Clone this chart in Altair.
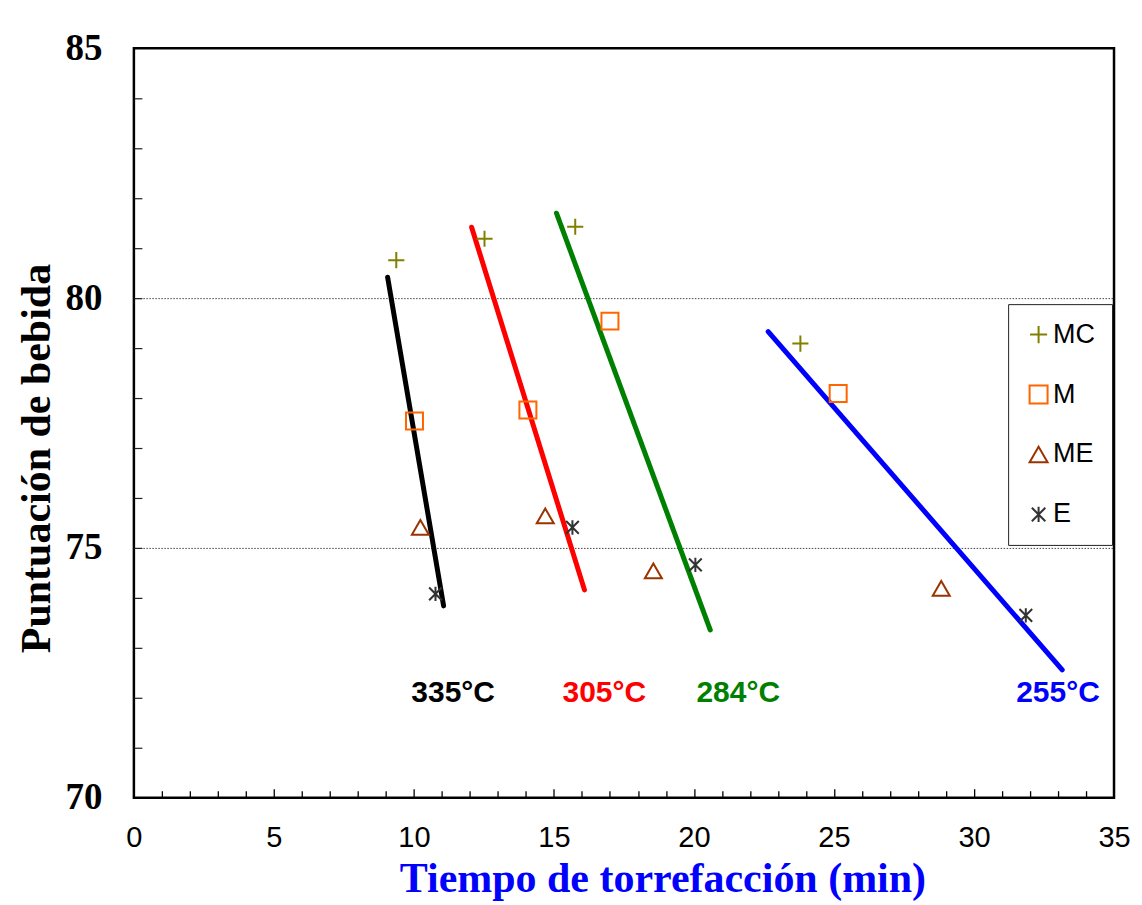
import altair as alt
import pandas as pd

# ---- data ----
series = ["MC", "M", "ME", "E"]
mc_x = [9.37, 12.52, 15.76, 23.8]
mc_y = [80.76, 81.19, 81.43, 79.09]
m_x = [10.02, 14.07, 17.0, 25.15]
m_y = [77.54, 77.76, 79.54, 78.09]
me_x = [10.23, 14.69, 18.55, 28.83]
me_y = [75.41, 75.64, 74.54, 74.19]
e_x = [10.77, 15.66, 20.05, 31.85]
e_y = [74.08, 75.41, 74.66, 73.65]
marker_colors = ["#808000", "#FF6600", "#993300", "#333333"]

temps = ["335°C", "305°C", "284°C", "255°C"]
fit_x0 = [9.06, 12.06, 15.09, 22.65]
fit_y0 = [80.42, 81.42, 81.7, 79.33]
fit_x1 = [11.06, 16.09, 20.58, 33.15]
fit_y1 = [73.84, 74.16, 73.36, 72.56]
temp_colors = ["#000000", "#FF0000", "#008000", "#0000FF"]
label_x = [11.4, 16.8, 21.58, 33.0]
label_y = [72.1, 72.1, 72.1, 72.1]

x_ticks_major = [0, 5, 10, 15, 20, 25, 30, 35]
x_ticks_minor = list(range(1, 35))
y_ticks_major = [70, 75, 80, 85]
y_ticks_minor = list(range(71, 85))

# ---- tables ----
pts = pd.DataFrame({
    "x": mc_x + m_x + me_x + e_x,
    "y": mc_y + m_y + me_y + e_y,
    "serie": ["MC"] * 4 + ["M"] * 4 + ["ME"] * 4 + ["E"] * 4,
})
lines = pd.DataFrame({
    "x": fit_x0 + fit_x1,
    "y": fit_y0 + fit_y1,
    "temp": temps + temps,
    "col": temp_colors + temp_colors,
})
labels = pd.DataFrame({"x": label_x, "y": label_y, "text": temps, "col": temp_colors})

plus_path = "M-0.95,0H0.95M0,-0.95V0.95"
star_path = "M-0.75,-0.75L0.75,0.75M-0.75,0.75L0.75,-0.75M0,-0.85V0.85"
shape_range = [plus_path, "square", "triangle-up", star_path]

W, H = 981, 750
xscale = alt.Scale(domain=[0, 35], nice=False, zero=False)
yscale = alt.Scale(domain=[70, 85], nice=False, zero=False)

x_main_axis = alt.Axis(
    values=x_ticks_major, ticks=False, tickSize=0, domain=False, grid=False,
    labelFont="Liberation Sans", labelFontSize=29, labelColor="black",
    labelPadding=26, labelFlush=False, labelOverlap=False, labelBaseline="top",
    title="Tiempo de torrefacción (min)", titleFont="Liberation Serif",
    titleFontWeight="bold", titleFontSize=42, titleColor="#0000FF",
    titleX=529, titleY=94, titleAlign="center", titleBaseline="alphabetic",
)
y_main_axis = alt.Axis(
    values=y_ticks_major, ticks=False, tickSize=0, domain=False,
    grid=True, gridColor="#444444", gridDash=[1.5, 1.5], gridWidth=1,
    gridOpacity={"condition": {"test": "datum.value === 75 || datum.value === 80", "value": 1}, "value": 0},
    labelFont="Liberation Serif", labelFontWeight="bold", labelFontSize=37,
    labelColor="black", labelPadding=32, labelFlush=False, labelOverlap=False,
    labelBaseline="middle",
    title="Puntuación de bebida", titleFont="Liberation Serif",
    titleFontWeight="bold", titleFontSize=42, titleColor="black",
    titleAngle=270, titleX=-84, titleY=410, titleAlign="center",
    titleBaseline="alphabetic",
)

line_layer = alt.Chart(lines).mark_line(strokeWidth=5, strokeCap="round").encode(
    x=alt.X("x:Q", scale=xscale, axis=x_main_axis),
    y=alt.Y("y:Q", scale=yscale, axis=y_main_axis),
    detail="temp:N",
    stroke=alt.Stroke("col:N", scale=None),
)

legend = alt.Legend(
    orient="none", legendX=875, legendY=256, title=None,
    strokeColor="#222222", fillColor="white", padding=17,
    labelFont="Liberation Sans", labelFontSize=27, labelColor="black",
    labelOffset=1, rowPadding=32, symbolSize=324, symbolStrokeWidth=2,
)

point_layer = alt.Chart(pts).mark_point(filled=False, size=289, strokeWidth=2, opacity=1).encode(
    x=alt.X("x:Q", scale=xscale, axis=None),
    y=alt.Y("y:Q", scale=yscale, axis=None),
    color=alt.Color("serie:N", scale=alt.Scale(domain=series, range=marker_colors), legend=legend),
    shape=alt.Shape("serie:N", scale=alt.Scale(domain=series, range=shape_range), legend=legend),
)

x_tick_axis = alt.Axis(
    orient="top", offset=-H, values=x_ticks_minor, labels=False, domain=False,
    grid=False, ticks=True, tickColor="black", tickWidth=1.3,
    tickSize={"condition": {"test": "datum.value % 5 === 0", "value": 9}, "value": 7},
    title=None,
)
y_tick_axis = alt.Axis(
    orient="right", offset=-W, values=y_ticks_minor, labels=False, domain=False,
    grid=False, ticks=True, tickColor="#222222", tickWidth=1.2, tickSize=8,
    title=None,
)

text_layer = alt.Chart(labels).mark_text(
    font="Liberation Sans", fontWeight="bold", fontSize=30,
    align="center", baseline="middle",
).encode(
    x=alt.X("x:Q", scale=xscale, axis=x_tick_axis),
    y=alt.Y("y:Q", scale=yscale, axis=y_tick_axis),
    text="text:N",
    fill=alt.Fill("col:N", scale=None),
)

chart = alt.layer(line_layer, point_layer, text_layer).resolve_axis(
    x="independent", y="independent"
).properties(
    width=W, height=H,
    autosize=alt.AutoSizeParams(type="none"),
    padding={"left": 126, "top": 40, "right": 20, "bottom": 107},
    background="white",
).configure_view(
    stroke="black", strokeWidth=2.5,
)

chart.save("out.html", embed_options={"renderer": "svg", "actions": False})
